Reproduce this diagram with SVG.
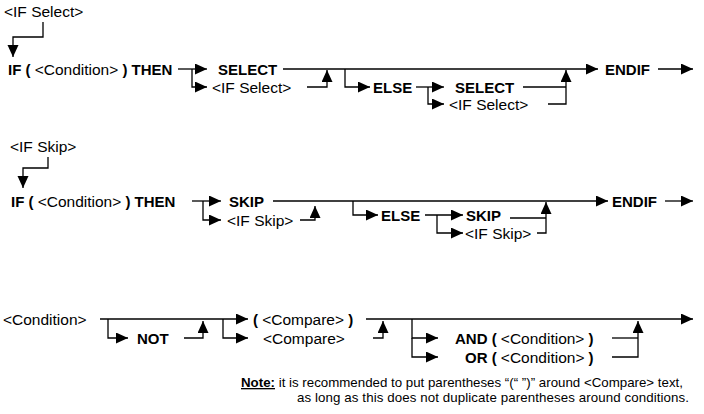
<svg xmlns="http://www.w3.org/2000/svg" width="704" height="414" viewBox="0 0 704 414">
<defs>
<marker id="ah" markerUnits="userSpaceOnUse" markerWidth="13" markerHeight="12" refX="12" refY="5.5" orient="auto">
<path d="M0,0 L12,5.5 L0,11 z" fill="#000"/>
</marker>
<style>
text{font-family:"Liberation Sans",Arial,sans-serif;font-size:15.5px;fill:#000}
.b{font-weight:bold;font-size:15px}
.r{font-weight:normal;font-size:15.5px}
.note{font-size:13.3px}
.c path{fill:none;stroke:#000;stroke-width:1.3}
.c .a{marker-end:url(#ah)}
</style>
</defs>
<rect width="704" height="414" fill="#fff"/>

<g class="c" id="connectors">
<!-- diagram 1 -->
<path class="a" d="M43,22 V37 H13 V57"/>
<path class="a" d="M178,69 H207"/>
<path class="a" d="M192,69 V87 H207"/>
<path class="a" d="M283,69 H598"/>
<path class="a" d="M307,87 H327 V70"/>
<path class="a" d="M345,69 V87 H370"/>
<path class="a" d="M416,87 H444"/>
<path class="a" d="M428,87 V104 H444"/>
<path d="M523,87 H566"/>
<path class="a" d="M548,104 H566 V70"/>
<path class="a" d="M658,69 H693"/>
<!-- diagram 2 -->
<path class="a" d="M48,157 V168 H23 V188"/>
<path class="a" d="M192,201 H221"/>
<path class="a" d="M203,201 V220 H221"/>
<path class="a" d="M273,201 H608"/>
<path class="a" d="M300,220 H315 V206"/>
<path class="a" d="M353,201 V215 H378"/>
<path class="a" d="M425,215 H463"/>
<path class="a" d="M437,215 V233 H463"/>
<path d="M510,218 H546"/>
<path class="a" d="M537,233 H546 V202"/>
<path class="a" d="M665,201 H693"/>
<!-- diagram 3 -->
<path class="a" d="M100,319 H248"/>
<path class="a" d="M108,319 V338 H128"/>
<path class="a" d="M184,338 H203 V321"/>
<path class="a" d="M223,319 V338 H248"/>
<path class="a" d="M366,319 H693"/>
<path class="a" d="M373,338 H383 V321"/>
<path class="a" d="M412,319 V338 H438"/>
<path class="a" d="M412,338 V357 H438"/>
<path d="M612,338 H638"/>
<path class="a" d="M612,357 H638 V321"/>
</g>

<g id="n-ifselect-label"><text x="4" y="17">&lt;IF Select&gt;</text></g>
<g id="n-if1"><text x="8" y="75" class="b">IF ( <tspan class="r">&lt;Condition&gt;</tspan> ) THEN</text></g>
<g id="n-select1"><text x="218" y="75" class="b">SELECT</text></g>
<g id="n-ifselect1"><text x="212" y="93">&lt;IF Select&gt;</text></g>
<g id="n-else1"><text x="373" y="93" class="b">ELSE</text></g>
<g id="n-select2"><text x="455" y="93" class="b">SELECT</text></g>
<g id="n-ifselect2"><text x="449" y="110">&lt;IF Select&gt;</text></g>
<g id="n-endif1"><text x="605" y="75" class="b">ENDIF</text></g>

<g id="n-ifskip-label"><text x="10" y="152">&lt;IF Skip&gt;</text></g>
<g id="n-if2"><text x="11" y="207" class="b">IF ( <tspan class="r">&lt;Condition&gt;</tspan> ) THEN</text></g>
<g id="n-skip1"><text x="229" y="207" class="b">SKIP</text></g>
<g id="n-ifskip1"><text x="227" y="226">&lt;IF Skip&gt;</text></g>
<g id="n-else2"><text x="381" y="221" class="b">ELSE</text></g>
<g id="n-skip2"><text x="466" y="221" class="b">SKIP</text></g>
<g id="n-ifskip2"><text x="465" y="239">&lt;IF Skip&gt;</text></g>
<g id="n-endif2"><text x="612" y="207" class="b">ENDIF</text></g>

<g id="n-condition"><text x="3" y="325">&lt;Condition&gt;</text></g>
<g id="n-not"><text x="137" y="344" class="b">NOT</text></g>
<g id="n-compare-paren"><text x="253" y="325" class="b">( <tspan class="r">&lt;Compare&gt;</tspan> )</text></g>
<g id="n-compare"><text x="263" y="344">&lt;Compare&gt;</text></g>
<g id="n-and"><text x="455" y="344" class="b">AND ( <tspan class="r">&lt;Condition&gt;</tspan> )</text></g>
<g id="n-or"><text x="465" y="363" class="b">OR ( <tspan class="r">&lt;Condition&gt;</tspan> )</text></g>

<g id="n-note">
<text x="241" y="387" class="note"><tspan class="b note" text-decoration="underline">Note:</tspan> it is recommended to put parentheses “(“ ”)” around &lt;Compare&gt; text,</text>
<text x="297" y="402" class="note" textLength="392">as long as this does not duplicate parentheses around conditions.</text>
</g>
</svg>
